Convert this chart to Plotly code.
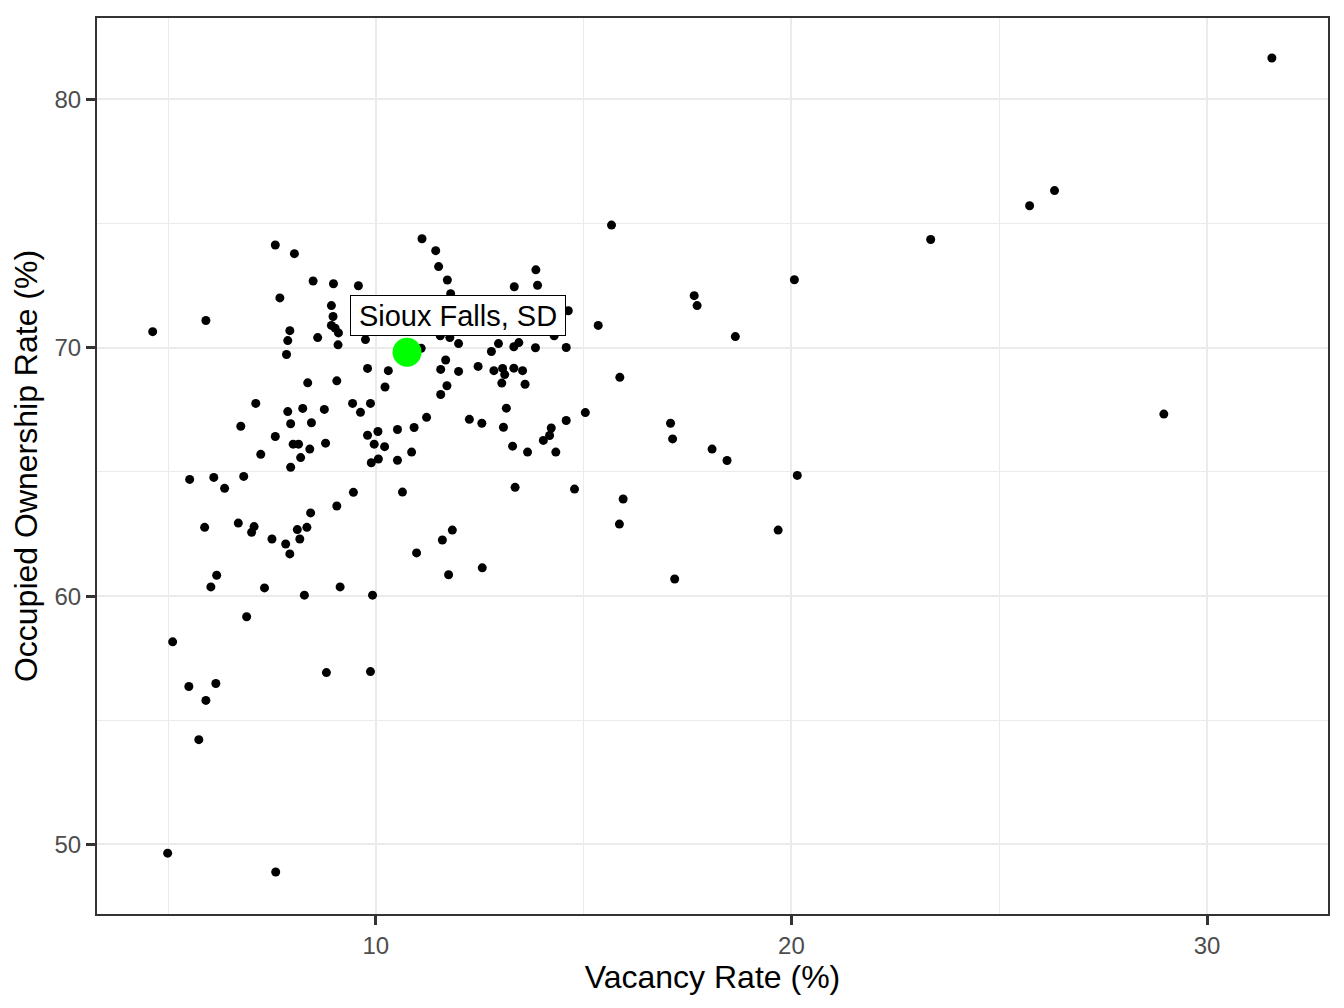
import plotly.graph_objects as go

# Vacancy rate (%) and occupied ownership rate (%) for each metro area
vacancy = [
    7.58, 8.04, 8.49, 8.98, 9.58, 7.69, 8.93, 8.97, 5.91, 4.63,
    7.93, 8.93, 9.02, 9.10, 8.60, 7.88, 9.75, 9.09, 7.85, 9.80,
    9.06, 8.36, 7.11, 9.44, 9.87, 7.88, 8.24, 8.76, 9.63, 6.75,
    7.95, 8.45, 7.58, 9.80, 10.05, 8.01, 8.14, 8.79, 8.41, 9.96,
    7.23, 8.19, 9.89, 10.06, 7.95, 11.11, 11.44, 11.51, 11.72, 13.85,
    13.33, 13.89, 15.67, 11.80, 14.63, 15.35, 14.29, 11.55, 11.78, 11.09,
    11.99, 12.95, 12.78, 13.32, 13.44, 13.84, 14.58, 11.68, 11.56, 11.99,
    12.46, 10.30, 12.84, 13.05, 13.10, 13.03, 13.32, 13.53, 13.59, 11.71,
    11.56, 10.22, 15.87, 13.14, 11.22, 12.25, 12.55, 10.92, 10.52, 13.07,
    14.22, 14.18, 14.03, 14.58, 15.04, 13.29, 13.65, 14.33, 10.21, 10.86,
    10.52, 17.09, 17.14, 10.64, 13.35, 14.78, 15.95, 15.86, 11.84, 11.60,
    10.98, 11.75, 12.56, 9.92, 5.52, 6.10, 6.36, 6.82, 9.46, 9.06,
    8.43, 5.88, 6.69, 7.07, 7.01, 7.50, 7.83, 7.93, 8.11, 8.34,
    8.17, 6.17, 6.03, 7.32, 8.28, 9.14, 6.89, 5.11, 8.81, 9.87,
    5.50, 6.15, 5.91, 5.74, 4.99, 7.59, 17.66, 17.73, 20.07, 18.65,
    18.09, 18.45, 20.14, 19.68, 17.19, 31.56, 26.33, 25.73, 23.35, 28.96,
]
ownership = [
    74.14, 73.79, 72.69, 72.58, 72.50, 72.01, 71.70, 71.26, 71.10, 70.65,
    70.69, 70.90, 70.79, 70.60, 70.41, 70.29, 70.33, 70.12, 69.73, 69.17,
    68.67, 68.59, 67.76, 67.76, 67.76, 67.43, 67.56, 67.52, 67.40, 66.84,
    66.94, 66.98, 66.43, 66.48, 66.63, 66.12, 66.12, 66.16, 65.92, 66.12,
    65.71, 65.58, 65.37, 65.52, 65.19, 74.39, 73.91, 73.27, 72.73, 73.14,
    72.46, 72.52, 74.94, 72.18, 71.49, 70.90, 70.48, 70.48, 70.41, 69.98,
    70.17, 70.17, 69.85, 70.04, 70.21, 70.00, 70.01, 69.51, 69.13, 69.05,
    69.25, 69.08, 69.08, 69.17, 68.92, 68.58, 69.18, 69.08, 68.53, 68.47,
    68.12, 68.42, 68.81, 67.57, 67.20, 67.12, 66.96, 66.79, 66.71, 66.80,
    66.77, 66.47, 66.27, 67.07, 67.39, 66.04, 65.80, 65.80, 66.02, 65.80,
    65.47, 66.96, 66.33, 64.19, 64.38, 64.31, 63.91, 62.90, 62.66, 62.26,
    61.74, 60.86, 61.14, 60.04, 64.70, 64.78, 64.34, 64.82, 64.18, 63.63,
    63.35, 62.77, 62.94, 62.80, 62.57, 62.30, 62.10, 61.70, 62.68, 62.77,
    62.30, 60.84, 60.37, 60.33, 60.04, 60.37, 59.17, 58.16, 56.92, 56.96,
    56.36, 56.48, 55.80, 54.22, 49.65, 48.89, 72.10, 71.70, 72.74, 70.45,
    65.92, 65.46, 64.86, 62.66, 60.69, 81.67, 76.33, 75.72, 74.36, 67.33,
]

# Highlighted metro
highlight_name = "Sioux Falls, SD"
highlight_vacancy = [10.75]
highlight_ownership = [69.82]

# Axis ticks
x_ticks = [10, 20, 30]
y_ticks = [50, 60, 70, 80]

FONT = "Arial, Liberation Sans, sans-serif"
GRID = "#EBEBEB"
INK = "#333333"

fig = go.Figure()

# All metros
fig.add_trace(go.Scatter(
    x=vacancy, y=ownership,
    mode="markers",
    marker=dict(color="black", size=9),
    showlegend=False,
    hoverinfo="skip",
))

# Sioux Falls on top in green
fig.add_trace(go.Scatter(
    x=highlight_vacancy, y=highlight_ownership,
    mode="markers",
    marker=dict(color="#00FF00", size=29),
    showlegend=False,
    hoverinfo="skip",
))

# Label nudged up and to the right of the point
fig.add_annotation(
    x=highlight_vacancy[0] + 1.23, y=highlight_ownership[0] + 1.49,
    text=highlight_name,
    showarrow=False,
    font=dict(family=FONT, size=29, color="black"),
    width=206, height=31,
    bgcolor="white",
    bordercolor="black",
    borderwidth=1,
    borderpad=4,
)

axis_common = dict(
    showline=True, mirror=True, linecolor=INK, linewidth=2,
    ticks="outside", ticklen=9, tickwidth=2.5, tickcolor=INK,
    tickfont=dict(family=FONT, size=24, color="#4D4D4D"),
    showgrid=True, gridcolor=GRID, gridwidth=2,
    zeroline=False,
    minor=dict(dtick=5, showgrid=True, gridcolor=GRID, gridwidth=1, ticks=""),
)

fig.update_xaxes(
    range=[3.29, 32.91], tickvals=x_ticks, tick0=0,
    title=dict(text="Vacancy Rate (%)", font=dict(family=FONT, size=32, color="black"), standoff=8),
    **axis_common,
)
fig.update_yaxes(
    range=[47.2, 83.28], tickvals=y_ticks, tick0=0,
    title=dict(text="Occupied Ownership Rate (%)", font=dict(family=FONT, size=32, color="black"), standoff=10),
    **axis_common,
)

# the page body adds an 8px offset, so the margins absorb it
fig.update_layout(
    width=1344, height=1008,
    margin=dict(l=89, r=24, t=8, b=102),
    plot_bgcolor="white", paper_bgcolor="white",
)

fig.write_html("out.html")
